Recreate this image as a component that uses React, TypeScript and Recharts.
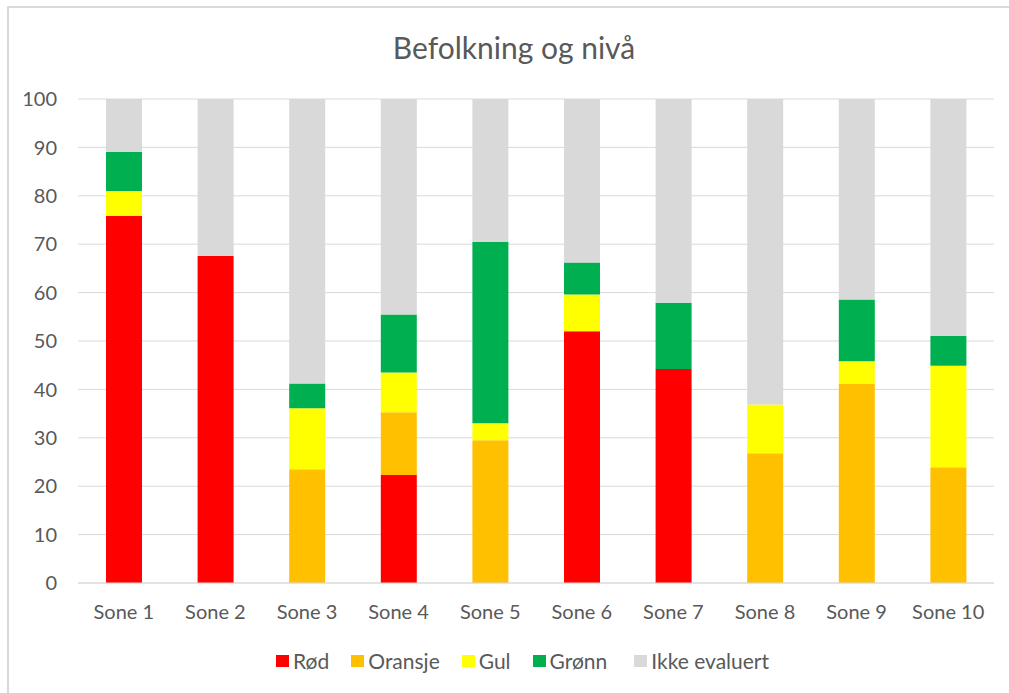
import { BarChart, Bar, XAxis, YAxis, CartesianGrid } from 'recharts';

const categories = ['Sone 1', 'Sone 2', 'Sone 3', 'Sone 4', 'Sone 5', 'Sone 6', 'Sone 7', 'Sone 8', 'Sone 9', 'Sone 10'];
const rod = [75.9, 67.6, 0, 22.3, 0, 52, 44.2, 0, 0, 0];
const oransje = [0, 0, 23.5, 13, 29.5, 0, 0, 26.8, 41.2, 23.9];
const gul = [5.1, 0, 12.6, 8.2, 3.5, 7.6, 0, 10.1, 4.6, 21];
const gronn = [8.1, 0, 5.1, 12, 37.5, 6.6, 13.7, 0, 12.8, 6.2];
const ikkeEvaluert = [10.9, 32.4, 58.8, 44.5, 29.5, 33.8, 42.1, 63.1, 41.4, 48.9];
const yTicks = [0, 10, 20, 30, 40, 50, 60, 70, 80, 90, 100];

const SERIES = [
  { key: 'rod', name: 'Rød', color: '#ff0000', values: rod },
  { key: 'oransje', name: 'Oransje', color: '#ffc000', values: oransje },
  { key: 'gul', name: 'Gul', color: '#ffff00', values: gul },
  { key: 'gronn', name: 'Grønn', color: '#00b050', values: gronn },
  { key: 'ikke', name: 'Ikke evaluert', color: '#d9d9d9', values: ikkeEvaluert },
];

const FONT = 'Lato, "Open Sans", sans-serif';
const TEXT = '#595959';

const data = categories.map((name, i) => {
  const row: Record<string, string | number> = { name };
  SERIES.forEach((s) => {
    row[s.key] = s.values[i];
  });
  return row;
});

export default function App() {
  return (
    <div style={{ position: 'relative', width: 1009, height: 693, overflow: 'hidden', background: '#fff' }}>
      <style>{'body{margin:0;}'}</style>
      <div
        style={{
          position: 'absolute',
          left: 7,
          top: 6,
          width: 1100,
          height: 800,
          border: '2px solid #d9d9d9',
        }}
      />
      <div
        style={{
          position: 'absolute',
          top: 29,
          left: 0,
          width: 1028,
          textAlign: 'center',
          fontFamily: FONT,
          fontSize: 30,
          color: TEXT,
        }}
      >
        Befolkning og nivå
      </div>
      <div style={{ position: 'absolute', left: 0, top: 0 }}>
        <BarChart
          width={1009}
          height={693}
          data={data}
          margin={{ top: 99, right: 15, bottom: 80, left: 8 }}
          barSize={36}
        >
          <CartesianGrid vertical={false} stroke="#d9d9d9" />
          <XAxis
            dataKey="name"
            height={30}
            axisLine={{ stroke: '#d9d9d9' }}
            tickLine={false}
            tickSize={0}
            tickMargin={22}
            tick={{ fill: TEXT, fontSize: 20, fontFamily: FONT }}
            interval={0}
          />
          <YAxis
            width={70}
            domain={[0, 100]}
            ticks={yTicks}
            axisLine={false}
            tickLine={false}
            tickSize={0}
            tickMargin={21}
            tick={{ fill: TEXT, fontSize: 20, fontFamily: FONT }}
          />
          {SERIES.map((s) => (
            <Bar key={s.key} dataKey={s.key} name={s.name} stackId="a" fill={s.color} isAnimationActive={false} />
          ))}
        </BarChart>
      </div>
      <div
        style={{
          position: 'absolute',
          left: 276,
          top: 648,
          display: 'flex',
          fontFamily: FONT,
          fontSize: 21,
          color: TEXT,
        }}
      >
        {SERIES.map((s, i) => (
          <div key={s.key} style={{ display: 'flex', alignItems: 'center', marginRight: i === 3 ? 27 : 22 }}>
            <span style={{ display: 'inline-block', width: 13, height: 12, background: s.color, marginRight: 4 }} />
            <span>{s.name}</span>
          </div>
        ))}
      </div>
    </div>
  );
}
